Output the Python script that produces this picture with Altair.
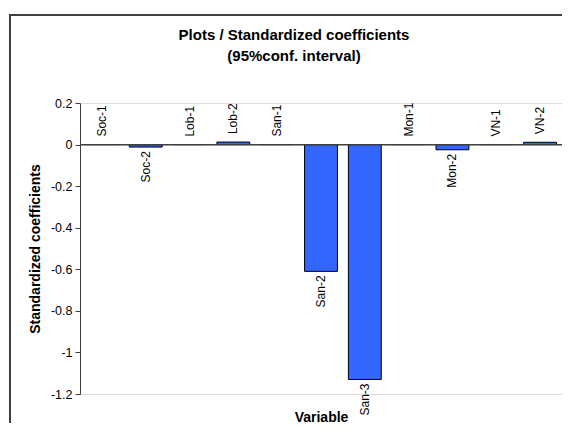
import altair as alt
import pandas as pd

variables = ["Soc-1", "Soc-2", "Lob-1", "Lob-2", "San-1", "San-2", "San-3",
             "Mon-1", "Mon-2", "VN-1", "VN-2"]
coefficients = [0.0, -0.012, 0.0, 0.012, 0.0, -0.61, -1.13, 0.0, -0.025, 0.0, 0.011]
y_ticks = [0.2, 0.0, -0.2, -0.4, -0.6, -0.8, -1.0, -1.2]
title_lines = ["Plots / Standardized coefficients", "(95%conf. interval)"]

df = pd.DataFrame({"variable": variables, "coef": coefficients})

FONT = "Liberation Sans"

x_enc = alt.X(
    "variable:N",
    sort=variables,
    scale=alt.Scale(paddingInner=0.25, paddingOuter=0.125),
    axis=alt.Axis(
        title="Variable", labels=False, ticks=False, domain=False,
        titleFont=FONT, titleFontSize=14, titleFontWeight="bold", titleColor="black",
        titleX=241, titleY=27, titleBaseline="alphabetic", titleAlign="center",
    ),
)
y_enc = alt.Y(
    "coef:Q",
    scale=alt.Scale(domain=[-1.2, 0.2], nice=False, zero=False),
    axis=alt.Axis(
        title="Standardized coefficients", values=y_ticks, grid=False,
        labelExpr="(datum.value < 0 ? '-' : '') + format(abs(datum.value), '.1~f')",
        labelFont=FONT, labelFontSize=12.5, labelColor="black", labelPadding=3,
        tickSize=5, tickColor="#404040", domainColor="#404040",
        titleFont=FONT, titleFontSize=14, titleFontWeight="bold", titleColor="black",
        titleX=-45, titleY=145.5, titleAngle=270, titleBaseline="middle", titleAlign="center",
    ),
)

base = alt.Chart(df)

bars = base.mark_bar(color="#3366FF", stroke="black", strokeWidth=1).encode(
    x=x_enc, y=y_enc
)

zero_line = base.mark_rule(color="#404040", strokeWidth=1).encode(y=alt.datum(0))

labels_up = base.transform_filter("datum.coef >= 0").mark_text(
    angle=270, align="left", baseline="middle", dx=8, font=FONT, fontSize=12, color="black"
).encode(x=alt.X("variable:N", sort=variables), y="coef:Q", text="variable:N")

labels_down = base.transform_filter("datum.coef < 0").mark_text(
    angle=270, align="right", baseline="middle", dx=-4, font=FONT, fontSize=12, color="black"
).encode(x=alt.X("variable:N", sort=variables), y="coef:Q", text="variable:N")

frame = alt.Chart(pd.DataFrame({"f": [0]})).mark_rect(
    fillOpacity=0, stroke="#404040", strokeWidth=2
).encode(
    x=alt.value(-70), x2=alt.value(520), y=alt.value(-88), y2=alt.value(420)
)

chart = alt.layer(frame, bars, zero_line, labels_up, labels_down).properties(
    width=482,
    height=291,
    padding={"left": 72, "top": 95, "right": 0, "bottom": 29},
    autosize=alt.AutoSizeParams(type="none"),
    title=alt.TitleParams(
        text=title_lines, font=FONT, fontSize=15, fontWeight="bold", color="black",
        anchor="middle", dx=-27, lineHeight=21, offset=-50,
    ),
).configure_view(stroke="#A0A0A0", strokeWidth=1).configure(background="white")

chart.save("out.html", embed_options={"renderer": "svg", "actions": False})
